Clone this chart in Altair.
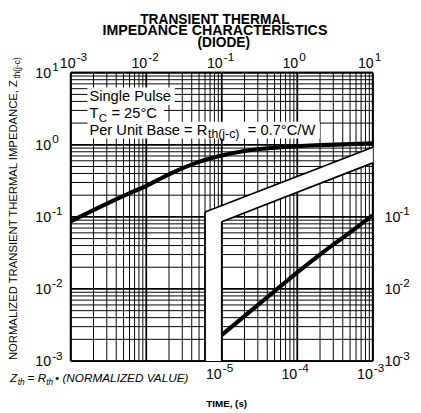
import math
import altair as alt
import pandas as pd

FONT = "Liberation Sans"

# ---------------- data ----------------
upper_time = [1e-3, 2e-3, 5e-3, 1e-2, 2e-2, 5e-2, 1e-1, 2e-1, 5e-1, 1, 2, 5, 10]
upper_z = [0.087, 0.124, 0.195, 0.27, 0.39, 0.58, 0.71, 0.82, 0.91, 0.96, 0.99, 1.02, 1.05]

lower_time = [1e-5, 2e-5, 5e-5, 1e-4, 2e-4, 5e-4, 1e-3]
lower_z = [0.0023, 0.0042, 0.0093, 0.0170, 0.030, 0.061, 0.105]
TIME_SHIFT = 1e4  # lower time range 1e-5..1e-3 sits under 1e-1..1e1 of the top axis

top_ticks = [1e-3, 1e-2, 1e-1, 1, 10]
top_exps = ["-3", "-2", "-1", "0", "1"]
left_ticks = [10, 1, 0.1, 0.01, 0.001]
left_exps = ["1", "0", "-1", "-2", "-3"]
right_ticks = [0.1, 0.01, 0.001]
right_exps = ["-1", "-2", "-3"]
bottom_ticks = [1e-5, 1e-4, 1e-3]
bottom_exps = ["-5", "-4", "-3"]

# break between the two panels (top-axis time units, Z units)
gap_left_t = 0.06
gap_right_t = 0.1
gap_upper = [(0.06, 0.117), (10.0, 0.925)]
gap_lower = [(0.1, 0.0855), (10.0, 0.56)]

# ---------------- helpers ----------------
W, H = 308, 294
xsc = alt.Scale(type="log", domain=[1e-3, 10], nice=False)
ysc = alt.Scale(type="log", domain=[1e-3, 10], nice=False)


def X(f):
    return alt.X(f, type="quantitative", scale=xsc, axis=None)


def Y(f):
    return alt.Y(f, type="quantitative", scale=ysc, axis=None)


def on_line(seg, t):
    (t0, z0), (t1, z1) = seg
    f = (math.log10(t) - math.log10(t0)) / (math.log10(t1) - math.log10(t0))
    return 10 ** (math.log10(z0) + f * (math.log10(z1) - math.log10(z0)))


one = pd.DataFrame({"k": [0]})


def txt(s, x, y, size=15, align="left", weight="normal", style="normal", angle=0):
    kw = dict(align=align, baseline="alphabetic", fontSize=size, font=FONT,
              fontWeight=weight, fontStyle=style, color="#000")
    if angle:
        kw["angle"] = angle
    return alt.Chart(one).mark_text(**kw).encode(
        x=alt.value(x), y=alt.value(y), text=alt.value(s))


def box(x0, x1, y0, y1):
    return alt.Chart(one).mark_rect(color="white").encode(
        x=alt.value(x0), x2=alt.value(x1), y=alt.value(y0), y2=alt.value(y1))


layers = []

# ---------------- grid ----------------
vals = [m * 10.0 ** d for d in range(-3, 1) for m in range(1, 10)] + [10.0]
widths = [1.8 if abs(math.log10(v) - round(math.log10(v))) < 1e-9 else 1.0 for v in vals]
grid_df = pd.DataFrame({"v": vals, "w": widths})
layers.append(alt.Chart(grid_df).mark_rule(color="#000").encode(
    x=X("v"), strokeWidth=alt.StrokeWidth("w:Q", scale=None)))
layers.append(alt.Chart(grid_df).mark_rule(color="#000").encode(
    y=Y("v"), strokeWidth=alt.StrokeWidth("w:Q", scale=None)))

# ---------------- white break ----------------
gap_rows = []
for t in [gap_left_t, gap_right_t]:
    gap_rows.append(dict(piece="A", t=t, top=on_line(gap_upper, t), bot=1e-3))
for t in [0.09, 10.0]:
    gap_rows.append(dict(piece="B", t=t, top=on_line(gap_upper, t), bot=on_line(gap_lower, t)))
gap_df = pd.DataFrame(gap_rows)
layers.append(alt.Chart(gap_df).mark_area(color="white", opacity=1, orient="vertical").encode(
    x=X("t"), y=Y("top"), y2=alt.Y2("bot"), detail="piece:N"))

# ---------------- text boxes ----------------
layers += [box(17, 106, 15, 33), box(17, 95, 33, 50), box(17, 254, 50, 67)]

# ---------------- frame ----------------
segs = [
    [(1e-3, 10), (10, 10)],
    [(1e-3, 1e-3), (1e-3, 10)],
    [(1e-3, 1e-3), (gap_left_t, 1e-3)],
    [(gap_right_t, 1e-3), (10, 1e-3)],
    [(10, gap_upper[1][1]), (10, 10)],
    [(10, 1e-3), (10, gap_lower[1][1])],
    [(gap_left_t, 1e-3), gap_upper[0]],
    [(gap_right_t, 1e-3), gap_lower[0]],
    gap_upper,
    gap_lower,
]
frame_rows = []
for i, s in enumerate(segs):
    for (t, z) in s:
        frame_rows.append(dict(seg=i, t=t, z=z))
frame_df = pd.DataFrame(frame_rows)
layers.append(alt.Chart(frame_df).mark_line(color="#000", strokeWidth=1.8).encode(
    x=X("t"), y=Y("z"), detail="seg:N"))

# ---------------- curves ----------------
up_df = pd.DataFrame({"t": upper_time, "z": upper_z})
layers.append(alt.Chart(up_df).mark_line(color="#000", strokeWidth=4.2, strokeCap="butt",
                                         interpolate="monotone").encode(x=X("t"), y=Y("z")))
lo_df = pd.DataFrame({"t": lower_time, "z": lower_z})
layers.append(alt.Chart(lo_df).transform_calculate(ts=f"datum.t * {TIME_SHIFT}").mark_line(
    color="#000", strokeWidth=4.2, strokeCap="butt", interpolate="monotone").encode(
    x=X("ts"), y=Y("z")))

# ---------------- tick labels ----------------
BASE = 14.5
EXP = 12
top_df = pd.DataFrame({"t": top_ticks, "e": top_exps, "i": list(range(len(top_ticks)))})
layers.append(alt.Chart(top_df).transform_filter("datum.i > 0").mark_text(
    align="right", baseline="alphabetic", dx=1, fontSize=BASE, font=FONT, color="#000").encode(
    x=X("t"), y=alt.value(-5), text=alt.value("10")))
layers.append(alt.Chart(top_df).transform_filter("datum.i > 0").mark_text(
    align="left", baseline="alphabetic", dx=2, fontSize=EXP, font=FONT, color="#000").encode(
    x=X("t"), y=alt.value(-12), text="e:N"))
layers.append(alt.Chart(top_df).transform_filter("datum.i == 0").mark_text(
    align="right", baseline="alphabetic", dx=5, fontSize=BASE, font=FONT, color="#000").encode(
    x=X("t"), y=alt.value(-5), text=alt.value("10")))
layers.append(alt.Chart(top_df).transform_filter("datum.i == 0").mark_text(
    align="left", baseline="alphabetic", dx=6, fontSize=EXP, font=FONT, color="#000").encode(
    x=X("t"), y=alt.value(-12), text="e:N"))

left_df = pd.DataFrame({"z": left_ticks, "e": left_exps})
layers.append(alt.Chart(left_df).mark_text(
    align="right", baseline="alphabetic", dy=5, fontSize=BASE, font=FONT, color="#000").encode(
    x=alt.value(-20), y=Y("z"), text=alt.value("10")))
layers.append(alt.Chart(left_df).mark_text(
    align="left", baseline="alphabetic", dy=-1.5, fontSize=EXP, font=FONT, color="#000").encode(
    x=alt.value(-19), y=Y("z"), text="e:N"))

right_df = pd.DataFrame({"z": right_ticks, "e": right_exps})
layers.append(alt.Chart(right_df).mark_text(
    align="left", baseline="alphabetic", dy=5, fontSize=BASE, font=FONT, color="#000").encode(
    x=alt.value(320), y=Y("z"), text=alt.value("10")))
layers.append(alt.Chart(right_df).mark_text(
    align="left", baseline="alphabetic", dy=-1.5, fontSize=EXP, font=FONT, color="#000").encode(
    x=alt.value(335), y=Y("z"), text="e:N"))

bot_df = pd.DataFrame({"t": bottom_ticks, "e": bottom_exps})
layers.append(alt.Chart(bot_df).transform_calculate(ts=f"datum.t * {TIME_SHIFT}").mark_text(
    align="right", baseline="alphabetic", dx=0, fontSize=BASE, font=FONT, color="#000").encode(
    x=X("ts"), y=alt.value(312), text=alt.value("10")))
layers.append(alt.Chart(bot_df).transform_calculate(ts=f"datum.t * {TIME_SHIFT}").mark_text(
    align="left", baseline="alphabetic", dx=1, fontSize=EXP, font=FONT, color="#000").encode(
    x=X("ts"), y=alt.value(305), text="e:N"))

# ---------------- annotations ----------------
layers += [
    txt("Single Pulse", 19, 29),
    txt("T", 19, 46),
    txt("C", 28.5, 50, size=11.5),
    txt("= 25°C", 41.5, 46),
    txt("Per Unit Base = R", 19, 63),
    txt("th(j-c)", 140, 66.5, size=12.5),
    txt("= 0.7°C/W", 180.5, 63),
]

# titles
layers += [
    txt("TRANSIENT THERMAL", 147, -50, size=14, align="center", weight="bold"),
    txt("IMPEDANCE CHARACTERISTICS", 147, -38, size=14.5, align="center", weight="bold"),
    txt("(DIODE)", 156, -26, size=14, align="center", weight="bold"),
]

# y title (rotated)
layers += [
    txt("NORMALIZED TRANSIENT THERMAL IMPEDANCE, Z", -55, 293, size=11.5, angle=270),
    txt("th(j-c)", -52, 6, size=8.5, angle=270),
]

# formula and x title
layers += [
    txt("Z", -62, 315, size=12, style="italic"),
    txt("th", -54, 318, size=8.5, style="italic"),
    txt("= R", -44, 315, size=12, style="italic"),
    txt("th", -25, 318, size=8.5, style="italic"),
    txt("• (NORMALIZED VALUE)", -16, 315, size=12, style="italic"),
    txt("TIME, (s)", 159, 341, size=10, align="center", weight="bold"),
]

chart = alt.layer(*layers).properties(
    width=W, height=H,
    autosize=alt.AutoSizeParams(type="none"),
    padding={"left": 64, "top": 62, "right": 41, "bottom": 49},
).configure_view(strokeWidth=0).configure(background="white")

chart.save("out.html", embed_options={"renderer": "svg", "actions": False})
